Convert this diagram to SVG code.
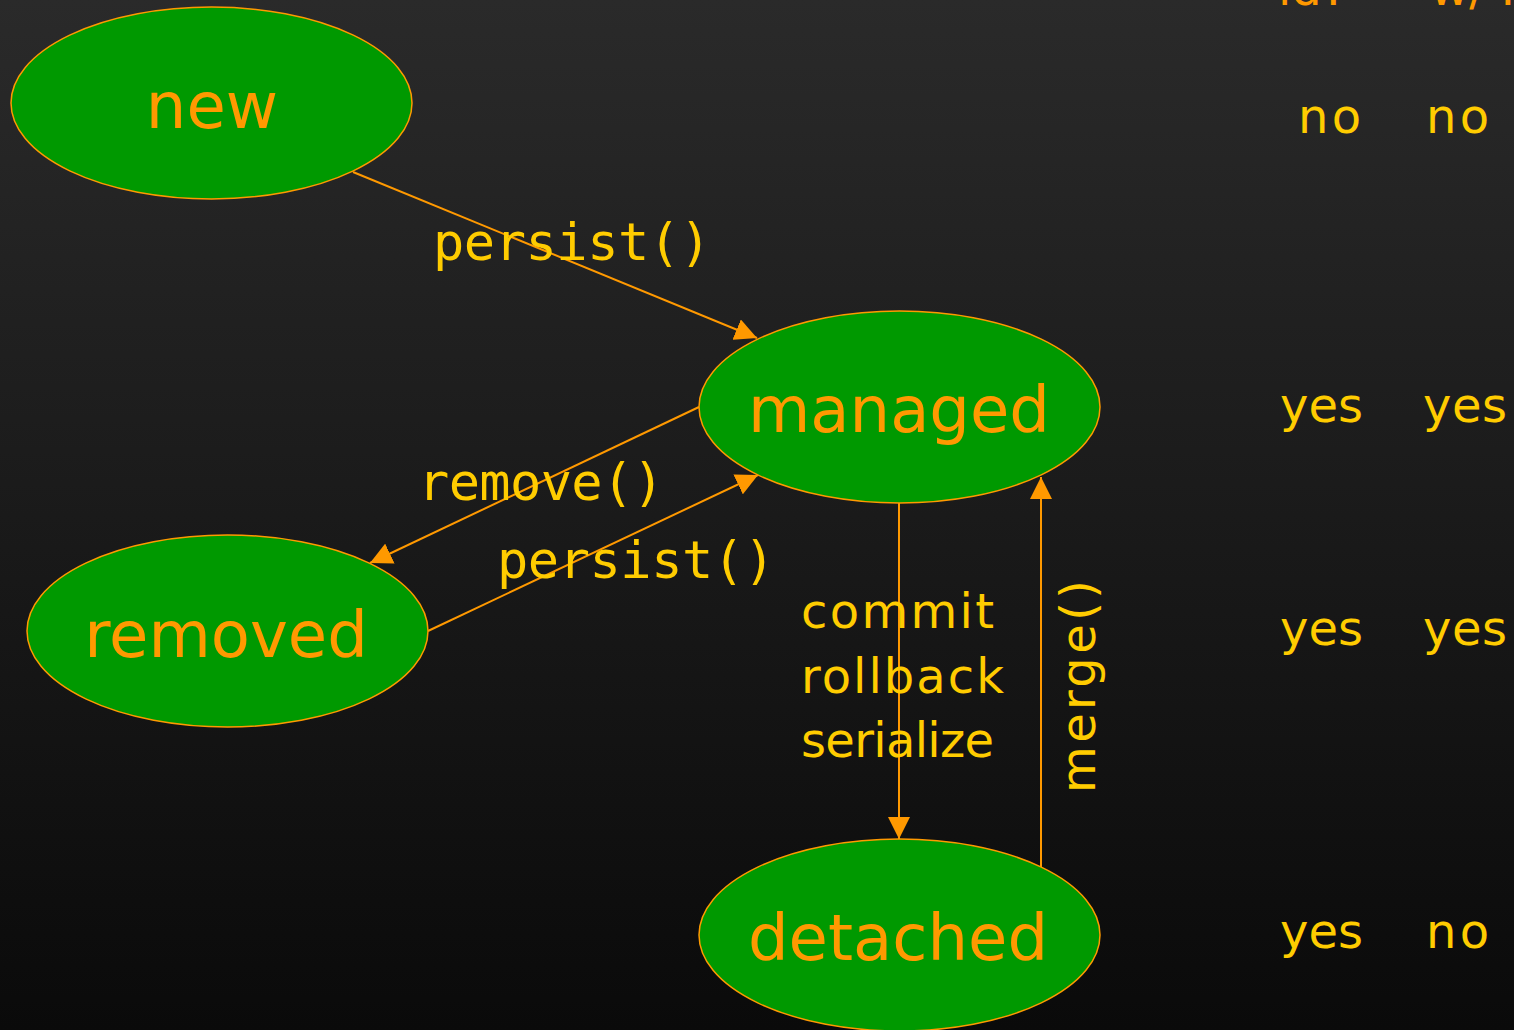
<svg xmlns="http://www.w3.org/2000/svg" width="1514" height="1030" viewBox="0 0 1514 1030">
<defs>
<linearGradient id="bg" x1="0" y1="0" x2="0" y2="1">
<stop offset="0" stop-color="#2a2a2a"/>
<stop offset="1" stop-color="#0a0a0a"/>
</linearGradient>
<marker id="arr" markerUnits="userSpaceOnUse" markerWidth="22" markerHeight="22" viewBox="0 0 20 20" refX="20" refY="10" orient="auto">
<path d="M0,0 L20,10 L0,20 Z" fill="#ff9900"/>
</marker>
<style>
.node ellipse{fill:#009900;stroke:#ff9900;stroke-width:1.5}
.node text{font-family:"DejaVu Sans","Liberation Sans",sans-serif;font-size:64px;fill:#ff9900;text-anchor:middle}
.edge{stroke:#ff9900;stroke-width:2;fill:none;marker-end:url(#arr)}
.code{font-family:"DejaVu Sans Mono","Liberation Mono",monospace;font-size:52px;fill:#ffcc00}
.lbl{font-family:"DejaVu Sans","Liberation Sans",sans-serif;font-size:48px;fill:#ffcc00}
.hdr{font-family:"DejaVu Sans","Liberation Sans",sans-serif;font-size:48px;fill:#ff9900}
</style>
</defs>
<rect x="0" y="0" width="1514" height="1030" fill="url(#bg)"/>

<g id="connectors">
<line class="edge" x1="353" y1="172" x2="757" y2="338"/>
<line class="edge" x1="699" y1="407" x2="370" y2="563"/>
<line class="edge" x1="428" y1="631" x2="758" y2="475"/>
<line class="edge" x1="899" y1="503" x2="899" y2="839"/>
<line class="edge" x1="1041" y1="867" x2="1041" y2="477"/>
</g>

<g id="node-new" class="node">
<ellipse cx="211.5" cy="103" rx="200.5" ry="96"/>
<text x="212" y="128">new</text>
</g>
<g id="node-managed" class="node">
<ellipse cx="899.5" cy="407" rx="200.5" ry="96"/>
<text x="899" y="432">managed</text>
</g>
<g id="node-removed" class="node">
<ellipse cx="227.5" cy="631" rx="200.5" ry="96"/>
<text x="226" y="657">removed</text>
</g>
<g id="node-detached" class="node">
<ellipse cx="899.5" cy="935" rx="200.5" ry="96"/>
<text x="898" y="960">detached</text>
</g>

<g id="edge-labels">
<text class="code" x="433" y="260" textLength="278">persist()</text>
<text class="code" x="418" y="500" textLength="246">remove()</text>
<text class="code" x="497" y="578" textLength="278">persist()</text>
<text class="lbl" x="801" y="628" textLength="193">commit</text>
<text class="lbl" x="801" y="693" textLength="203">rollback</text>
<text class="lbl" x="801" y="757" textLength="193">serialize</text>
<text class="lbl" font-size="52" transform="translate(1095,793) rotate(-90)" textLength="213">merge()</text>
</g>

<g id="table">
<text class="hdr" x="1278" y="5">id?</text>
<text class="hdr" x="1430" y="5">w/ PC?</text>
<text class="lbl" x="1298" y="133" textLength="63">no</text>
<text class="lbl" x="1426" y="133" textLength="63">no</text>
<text class="lbl" x="1280" y="422" textLength="83">yes</text>
<text class="lbl" x="1423" y="422" textLength="84">yes</text>
<text class="lbl" x="1280" y="645" textLength="83">yes</text>
<text class="lbl" x="1423" y="645" textLength="84">yes</text>
<text class="lbl" x="1280" y="948" textLength="83">yes</text>
<text class="lbl" x="1426" y="948" textLength="63">no</text>
</g>
</svg>
